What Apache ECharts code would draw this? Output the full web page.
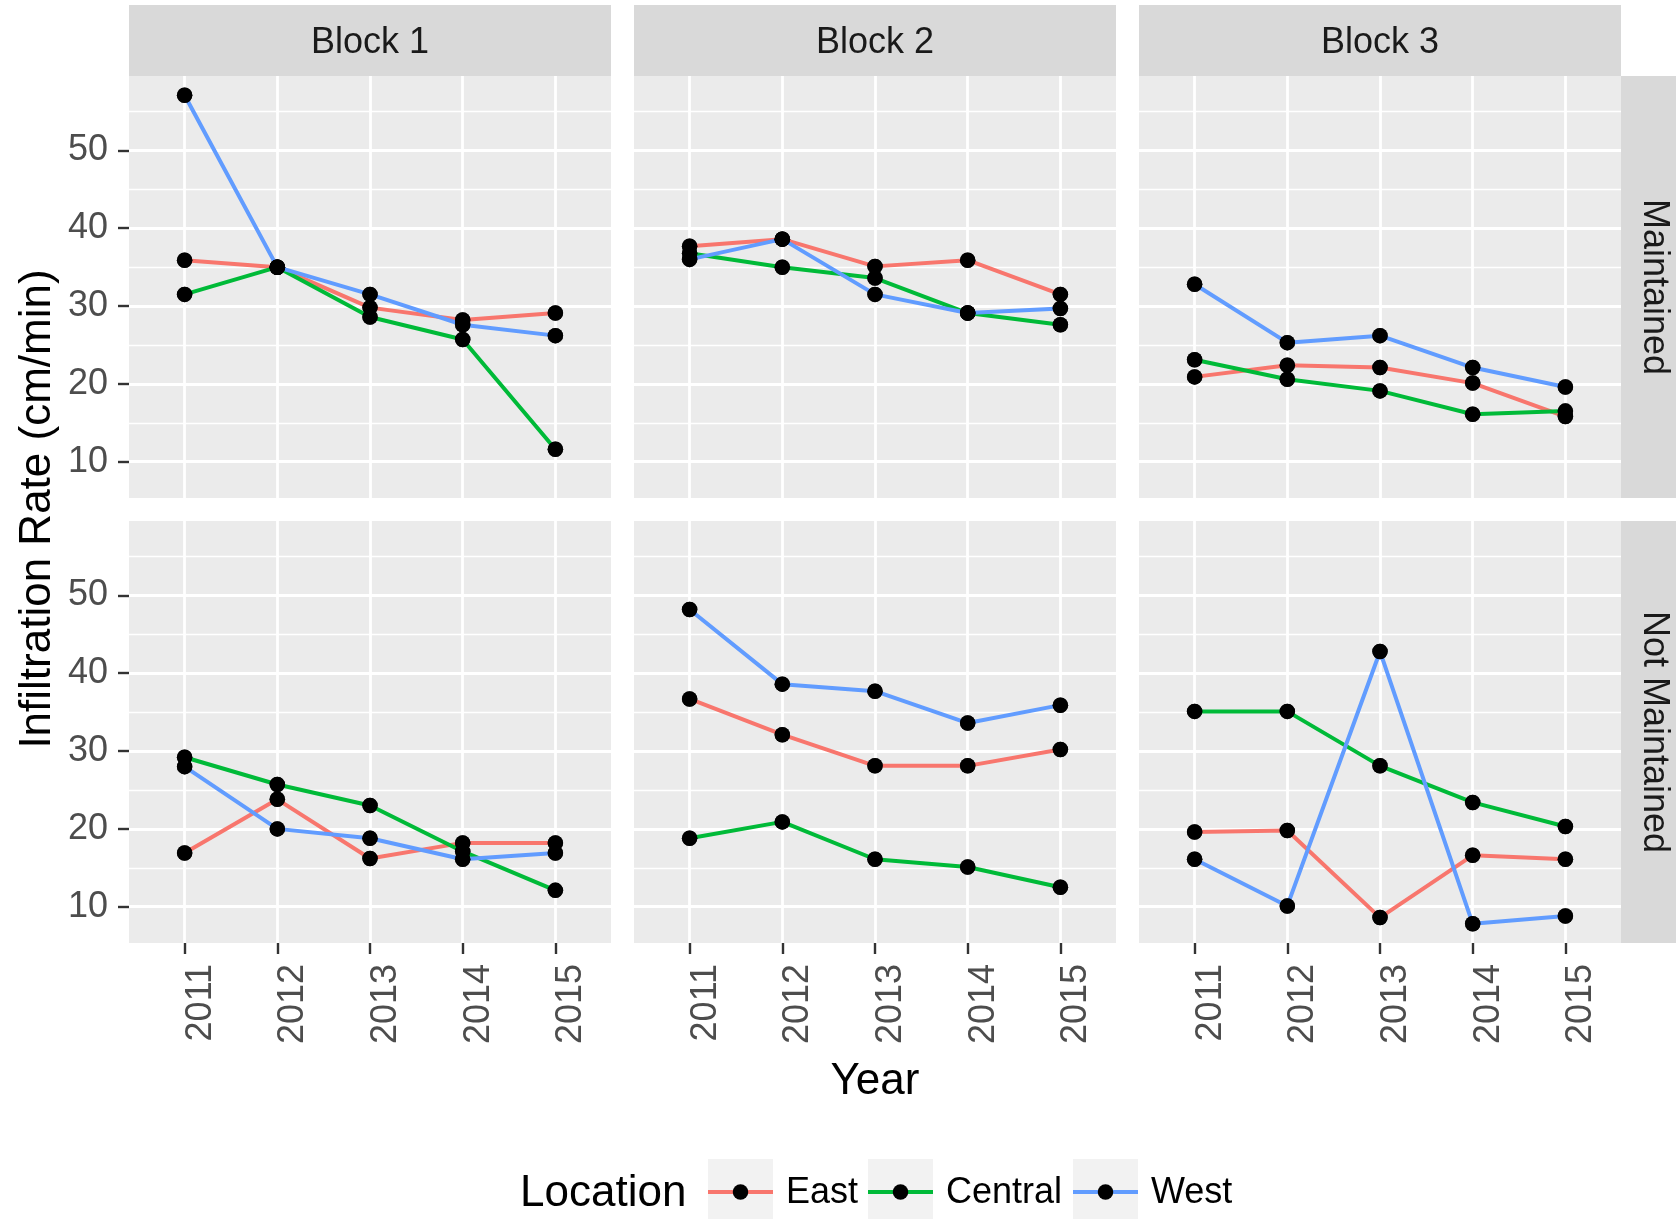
<!DOCTYPE html>
<html>
<head>
<meta charset="utf-8">
<script src="https://cdn.jsdelivr.net/npm/echarts@6/dist/echarts.min.js"></script>
<style>
  html, body { margin: 0; padding: 0; background: #ffffff; }
  #chart { width: 1676px; height: 1219px; }
</style>
</head>
<body>
<div id="chart"></div>
<script>
// Facets, categories and tick values
const years = [2011, 2012, 2013, 2014, 2015];
const blocks = ['Block 1', 'Block 2', 'Block 3'];
const conditions = ['Maintained', 'Not Maintained'];
const locations = ['East', 'Central', 'West'];
const locationColors = ['#F8766D', '#00BA38', '#619CFF'];
const yTicks = [10, 20, 30, 40, 50];
const yMinorTicks = [15, 25, 35, 45, 55];

// Infiltration rate (cm/min), Maintained plots
const maintB1East    = [35.9, 35.0, 29.8, 28.2, 29.1];
const maintB1Central = [31.5, 35.0, 28.6, 25.7, 11.6];
const maintB1West    = [57.1, 35.0, 31.5, 27.6, 26.2];
const maintB2East    = [37.7, 38.6, 35.1, 35.9, 31.5];
const maintB2Central = [36.8, 35.0, 33.6, 29.1, 27.6];
const maintB2West    = [36.0, 38.6, 31.5, 29.1, 29.7];
const maintB3East    = [20.9, 22.4, 22.1, 20.1, 15.8];
const maintB3Central = [23.1, 20.6, 19.1, 16.1, 16.5];
const maintB3West    = [32.8, 25.3, 26.2, 22.1, 19.6];

// Infiltration rate (cm/min), Not Maintained plots
const notB1East    = [16.9, 23.8, 16.2, 18.2, 18.2];
const notB1Central = [29.2, 25.7, 23.0, 17.1, 12.1];
const notB1West    = [28.0, 20.0, 18.8, 16.1, 16.9];
const notB2East    = [36.7, 32.1, 28.1, 28.1, 30.2];
const notB2Central = [18.8, 20.9, 16.1, 15.1, 12.5];
const notB2West    = [48.2, 38.6, 37.7, 33.6, 35.9];
const notB3East    = [19.6, 19.8, 8.6, 16.6, 16.1];
const notB3Central = [35.1, 35.1, 28.1, 23.4, 20.3];
const notB3West    = [16.1, 10.1, 42.8, 7.8, 8.8];

// panels[row][col][location]
const panels = [
  [[maintB1East, maintB1Central, maintB1West],
   [maintB2East, maintB2Central, maintB2West],
   [maintB3East, maintB3Central, maintB3West]],
  [[notB1East, notB1Central, notB1West],
   [notB2East, notB2Central, notB2West],
   [notB3East, notB3Central, notB3West]]
];

const FONT = "'Liberation Sans', Arial, Helvetica, sans-serif";
const SMALL = 36, LARGE = 44;
const LINE_W = 4.0, POINT_SIZE = 15.5;

// Shared y range with 5% padding on each side
const allValues = panels.flat(2).flat();
const vMin = Math.min(...allValues), vMax = Math.max(...allValues);
const pad = (vMax - vMin) * 0.05;
const yMin = vMin - pad, yMax = vMax + pad;
// Discrete year axis: 0.6 of a step on each side
const xMin = years[0] - 0.6, xMax = years[years.length - 1] + 0.6;

// Panel geometry
const panelLeft0 = 129, panelStep = 505, panelW = 482, panelH = 422;
const rowTops = [76, 521];
const stripTop = 5, stripH = 71, stripRightX = 1621, stripRightW = 71;

const grids = [], xAxes = [], yAxes = [], series = [];

conditions.forEach((cond, r) => {
  blocks.forEach((blk, c) => {
    const g = r * blocks.length + c;
    grids.push({
      left: panelLeft0 + c * panelStep, top: rowTops[r],
      width: panelW, height: panelH,
      show: true, backgroundColor: '#EBEBEB', borderWidth: 0,
      containLabel: false, outerBoundsMode: 'none'
    });
    xAxes.push({
      type: 'value', gridIndex: g, min: xMin, max: xMax,
      axisLine: { show: false },
      axisTick: { show: r === 1, customValues: years, length: 11,
                  lineStyle: { color: '#333333', width: 2.4 } },
      axisLabel: { show: r === 1, customValues: years, rotate: 90, margin: 21,
                   fontSize: SMALL, fontFamily: FONT, color: '#4D4D4D',
                   verticalAlign: 'top', lineHeight: 32,
                   formatter: v => String(v) },
      splitLine: { show: true, lineStyle: { color: '#FFFFFF', width: 2.8 } }
    });
    // major y axis
    yAxes.push({
      type: 'value', gridIndex: g, min: yMin, max: yMax,
      axisLine: { show: false },
      axisTick: { show: c === 0, customValues: yTicks, length: 11,
                  lineStyle: { color: '#333333', width: 2.4 } },
      axisLabel: { show: c === 0, customValues: yTicks, margin: 21,
                   fontSize: SMALL, fontFamily: FONT, color: '#4D4D4D',
                   formatter: v => String(v) },
      splitLine: { show: true, lineStyle: { color: '#FFFFFF', width: 2.8 } }
    });
    // minor y grid lines
    yAxes.push({
      type: 'value', gridIndex: g, min: yMin, max: yMax, position: 'right',
      axisLine: { show: false },
      axisTick: { show: false, customValues: yMinorTicks },
      axisLabel: { show: false, customValues: yMinorTicks },
      splitLine: { show: true, lineStyle: { color: '#FFFFFF', width: 1.4 } }
    });

    const locSeries = panels[r][c];
    locations.forEach((loc, l) => {
      series.push({
        type: 'line', name: loc, xAxisIndex: g, yAxisIndex: g * 2,
        data: years.map((yr, i) => [yr, locSeries[l][i]]),
        symbol: 'circle', symbolSize: POINT_SIZE, showSymbol: true,
        itemStyle: { color: '#000000' },
        lineStyle: { color: locationColors[l], width: LINE_W },
        emphasis: { disabled: true }, silent: true, z: 2
      });
    });
  });
});

// points above all the lines
conditions.forEach((cond, r) => {
  blocks.forEach((blk, c) => {
    const g = r * blocks.length + c;
    locations.forEach((loc, l) => {
      series.push({
        type: 'scatter', name: loc, xAxisIndex: g, yAxisIndex: g * 2,
        data: years.map((yr, i) => [yr, panels[r][c][l][i]]),
        symbol: 'circle', symbolSize: POINT_SIZE,
        itemStyle: { color: '#000000' },
        emphasis: { disabled: true }, silent: true, z: 3
      });
    });
  });
});

// Facet strips, axis titles and legend title
const graphics = [];
blocks.forEach((blk, c) => {
  const x = panelLeft0 + c * panelStep;
  graphics.push({ type: 'rect', shape: { x: x, y: stripTop, width: panelW, height: stripH },
                  style: { fill: '#D9D9D9' }, silent: true });
  graphics.push({ type: 'text', x: x + panelW / 2, y: stripTop + stripH / 2 + 3,
                  style: { text: blk, fontSize: SMALL, fontFamily: FONT, fill: '#1A1A1A',
                           align: 'center', verticalAlign: 'middle',
                           textAlign: 'center', textVerticalAlign: 'middle' }, silent: true });
});
conditions.forEach((cond, r) => {
  graphics.push({ type: 'rect', shape: { x: stripRightX, y: rowTops[r], width: stripRightW, height: panelH },
                  style: { fill: '#D9D9D9' }, silent: true });
  graphics.push({ type: 'text', x: stripRightX + 33, y: rowTops[r] + panelH / 2,
                  rotation: -Math.PI / 2,
                  style: { text: cond, fontSize: SMALL, fontFamily: FONT, fill: '#1A1A1A',
                           align: 'center', verticalAlign: 'middle',
                           textAlign: 'center', textVerticalAlign: 'middle' }, silent: true });
});
graphics.push({ type: 'text', x: 38, y: 509, rotation: Math.PI / 2,
                style: { text: 'Infiltration Rate (cm/min)', fontSize: LARGE, fontFamily: FONT, fill: '#000000',
                         align: 'center', verticalAlign: 'middle',
                         textAlign: 'center', textVerticalAlign: 'middle' }, silent: true });
graphics.push({ type: 'text', x: 875, y: 1082,
                style: { text: 'Year', fontSize: LARGE, fontFamily: FONT, fill: '#000000',
                         align: 'center', verticalAlign: 'middle',
                         textAlign: 'center', textVerticalAlign: 'middle' }, silent: true });
graphics.push({ type: 'text', x: 520, y: 1194,
                style: { text: 'Location', fontSize: LARGE, fontFamily: FONT, fill: '#000000',
                         align: 'left', verticalAlign: 'middle',
                         textAlign: 'left', textVerticalAlign: 'middle' }, silent: true });

// legend keys: grey box, coloured line, black point
const keyLefts = [708, 868, 1073];
const keySize = 65, keyTop = 1159, keyMid = 1192;
keyLefts.forEach((x, i) => {
  graphics.push({ type: 'rect', shape: { x: x, y: keyTop, width: keySize, height: keySize },
                  style: { fill: '#F2F2F2' }, silent: true, z: 1 });
  graphics.push({ type: 'line', shape: { x1: x, y1: keyMid, x2: x + keySize, y2: keyMid },
                  style: { stroke: locationColors[i], lineWidth: LINE_W }, silent: true, z: 2 });
  graphics.push({ type: 'circle', shape: { cx: x + keySize / 2, cy: keyMid, r: POINT_SIZE / 2 },
                  style: { fill: '#000000' }, silent: true, z: 3 });
});

const legends = locations.map((loc, i) => ({
  data: [{ name: loc, icon: 'rect' }], left: keyLefts[i], top: 1175, padding: 0,
  orient: 'horizontal', itemWidth: keySize, itemHeight: 19,
  selectedMode: false,
  itemStyle: { color: 'rgba(0,0,0,0)', borderWidth: 0 },
  textStyle: { fontSize: SMALL, fontFamily: FONT, color: '#000000', padding: [0, 0, 0, 8] }
}));

const chart = echarts.init(document.getElementById('chart'), null, { renderer: 'canvas' });
chart.setOption({
  animation: false,
  backgroundColor: '#FFFFFF',
  grid: grids,
  xAxis: xAxes,
  yAxis: yAxes,
  legend: legends,
  graphic: { elements: graphics },
  series: series
});
</script>
</body>
</html>
